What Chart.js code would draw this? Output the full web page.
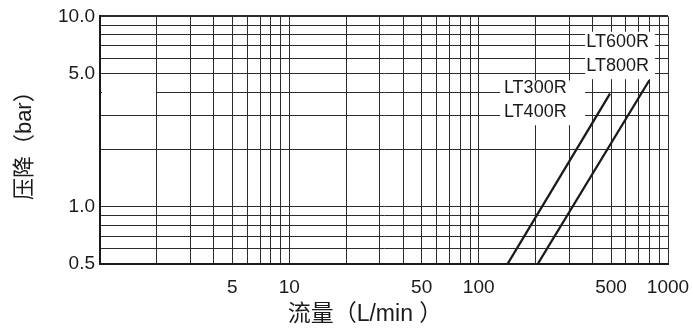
<!DOCTYPE html>
<html>
<head>
<meta charset="utf-8">
<script src="https://cdn.jsdelivr.net/npm/chart.js@4"></script>
<style>
  html, body { margin: 0; padding: 0; background: #fff; }
  #wrap { width: 693px; height: 334px; }
</style>
</head>
<body>
<div id="wrap"><canvas id="myChart" width="693" height="334"></canvas></div>
<script>
// Datos (caudal L/min vs caída de presión bar)
var serieA = 'LT300R/LT400R';
var serieAx = [142, 494];
var serieAy = [0.5, 3.93];

var serieB = 'LT600R/LT800R';
var serieBx = [205, 797];
var serieBy = [0.5, 4.62];

// Líneas de la rejilla y etiquetas de los ejes
var xRejilla = [1, 2, 3, 4, 5, 6, 7, 8, 9, 10, 20, 30, 40, 50, 60, 70, 80, 90, 100,
                200, 300, 400, 500, 600, 700, 800, 900, 1000];
var xEtiquetas = [5, 10, 50, 100, 500, 1000];
var yRejilla = [0.5, 0.6, 0.7, 0.8, 0.9, 1, 2, 3, 4, 5, 6, 7, 8, 9, 10];
var yEtiquetas = [0.5, 1, 5, 10];

var tituloX = '流量（L/min ）';
var tituloY = '压降（bar）';

// Rótulos de las curvas
var rotulos = ['LT600R', 'LT800R', 'LT300R', 'LT400R'];

var fuente = "'Liberation Sans', Arial, 'Noto Sans CJK SC', sans-serif";
var negro = '#1a1a1a';

function puntos(xs, ys) {
    return xs.map(function(x, i) { return {x: x, y: ys[i]}; });
}

// Cajas blancas y posición de rótulos, en coordenadas de datos
var cajas = [
    {x1: 365, x2: 855, y1: 8.3, y2: 4.68},
    {x1: 130, x2: 365, y1: 4.6, y2: 2.68}
];
var rotuloPos = [
    {x: 370, y: 7.3},
    {x: 370, y: 5.5},
    {x: 136, y: 4.19},
    {x: 136, y: 3.15}
];

var notasPlugin = {
    id: 'notas',
    beforeDatasetsDraw: function(chart) {
        var ctx = chart.ctx;
        var xs = chart.scales.x;
        var ys = chart.scales.y;
        ctx.save();
        // la línea de 4.0 empieza en x = 2
        ctx.strokeStyle = '#fff';
        ctx.lineWidth = 3;
        ctx.beginPath();
        ctx.moveTo(xs.getPixelForValue(1) + 2, ys.getPixelForValue(4));
        ctx.lineTo(xs.getPixelForValue(2) - 1, ys.getPixelForValue(4));
        ctx.stroke();
        // fondos blancos de los rótulos
        ctx.fillStyle = '#fff';
        cajas.forEach(function(c) {
            var l = xs.getPixelForValue(c.x1), r = xs.getPixelForValue(c.x2);
            var t = ys.getPixelForValue(c.y1), b = ys.getPixelForValue(c.y2);
            ctx.fillRect(l, t, r - l, b - t);
        });
        ctx.fillStyle = negro;
        ctx.font = '18px ' + fuente;
        ctx.textAlign = 'left';
        ctx.textBaseline = 'middle';
        rotulos.forEach(function(txt, i) {
            ctx.fillText(txt, xs.getPixelForValue(rotuloPos[i].x), ys.getPixelForValue(rotuloPos[i].y));
        });
        ctx.restore();
    },
    afterDraw: function(chart) {
        var ctx = chart.ctx;
        var a = chart.chartArea;
        ctx.save();
        ctx.fillStyle = negro;
        ctx.font = '23px ' + fuente;
        ctx.textAlign = 'center';
        ctx.textBaseline = 'middle';
        ctx.fillText(tituloX, (a.left + a.right) / 2 - 19, 315);
        ctx.restore();
    }
};

var ctx = document.getElementById('myChart').getContext('2d');
var myChart = new Chart(ctx, {
    type: 'line',
    data: {
        datasets: [{
            label: serieA,
            data: puntos(serieAx, serieAy),
            borderColor: negro,
            borderWidth: 2.3,
            pointRadius: 0,
            fill: false
        }, {
            label: serieB,
            data: puntos(serieBx, serieBy),
            borderColor: negro,
            borderWidth: 2.3,
            pointRadius: 0,
            fill: false
        }]
    },
    options: {
        responsive: false,
        animation: false,
        layout: {
            padding: {left: 0, right: 25, top: 16, bottom: 0}
        },
        plugins: {
            legend: {display: false},
            tooltip: {enabled: false}
        },
        scales: {
            x: {
                type: 'logarithmic',
                min: 1,
                max: 1000,
                afterBuildTicks: function(axis) {
                    axis.ticks = xRejilla.map(function(v) { return {value: v}; });
                },
                afterFit: function(axis) {
                    axis.height = 70;
                    axis.paddingLeft = 0;
                    axis.paddingRight = 0;
                },
                ticks: {
                    autoSkip: false,
                    maxRotation: 0,
                    minRotation: 0,
                    padding: 12,
                    color: negro,
                    font: {family: fuente, size: 19},
                    callback: function(v) {
                        return xEtiquetas.indexOf(v) >= 0 ? String(v) : '';
                    }
                },
                grid: {
                    color: '#2b2b2b',
                    lineWidth: 1,
                    drawTicks: false
                },
                border: {display: true, color: negro, width: 2}
            },
            y: {
                type: 'logarithmic',
                min: 0.5,
                max: 10,
                afterBuildTicks: function(axis) {
                    axis.ticks = yRejilla.map(function(v) { return {value: v}; });
                },
                afterFit: function(axis) { axis.width = 100; },
                ticks: {
                    autoSkip: false,
                    padding: 5,
                    color: negro,
                    font: {family: fuente, size: 19},
                    callback: function(v) {
                        return yEtiquetas.indexOf(v) >= 0 ? v.toFixed(1) : '';
                    }
                },
                grid: {
                    color: '#2b2b2b',
                    lineWidth: function(c) { return c.tick && c.tick.value === 10 ? 2 : 1; },
                    drawTicks: false
                },
                border: {display: true, color: negro, width: 2},
                title: {
                    display: true,
                    text: tituloY,
                    color: negro,
                    font: {family: fuente, size: 22},
                    padding: {top: 12, bottom: 0}
                }
            }
        }
    },
    plugins: [notasPlugin]
});
</script>
</body>
</html>
